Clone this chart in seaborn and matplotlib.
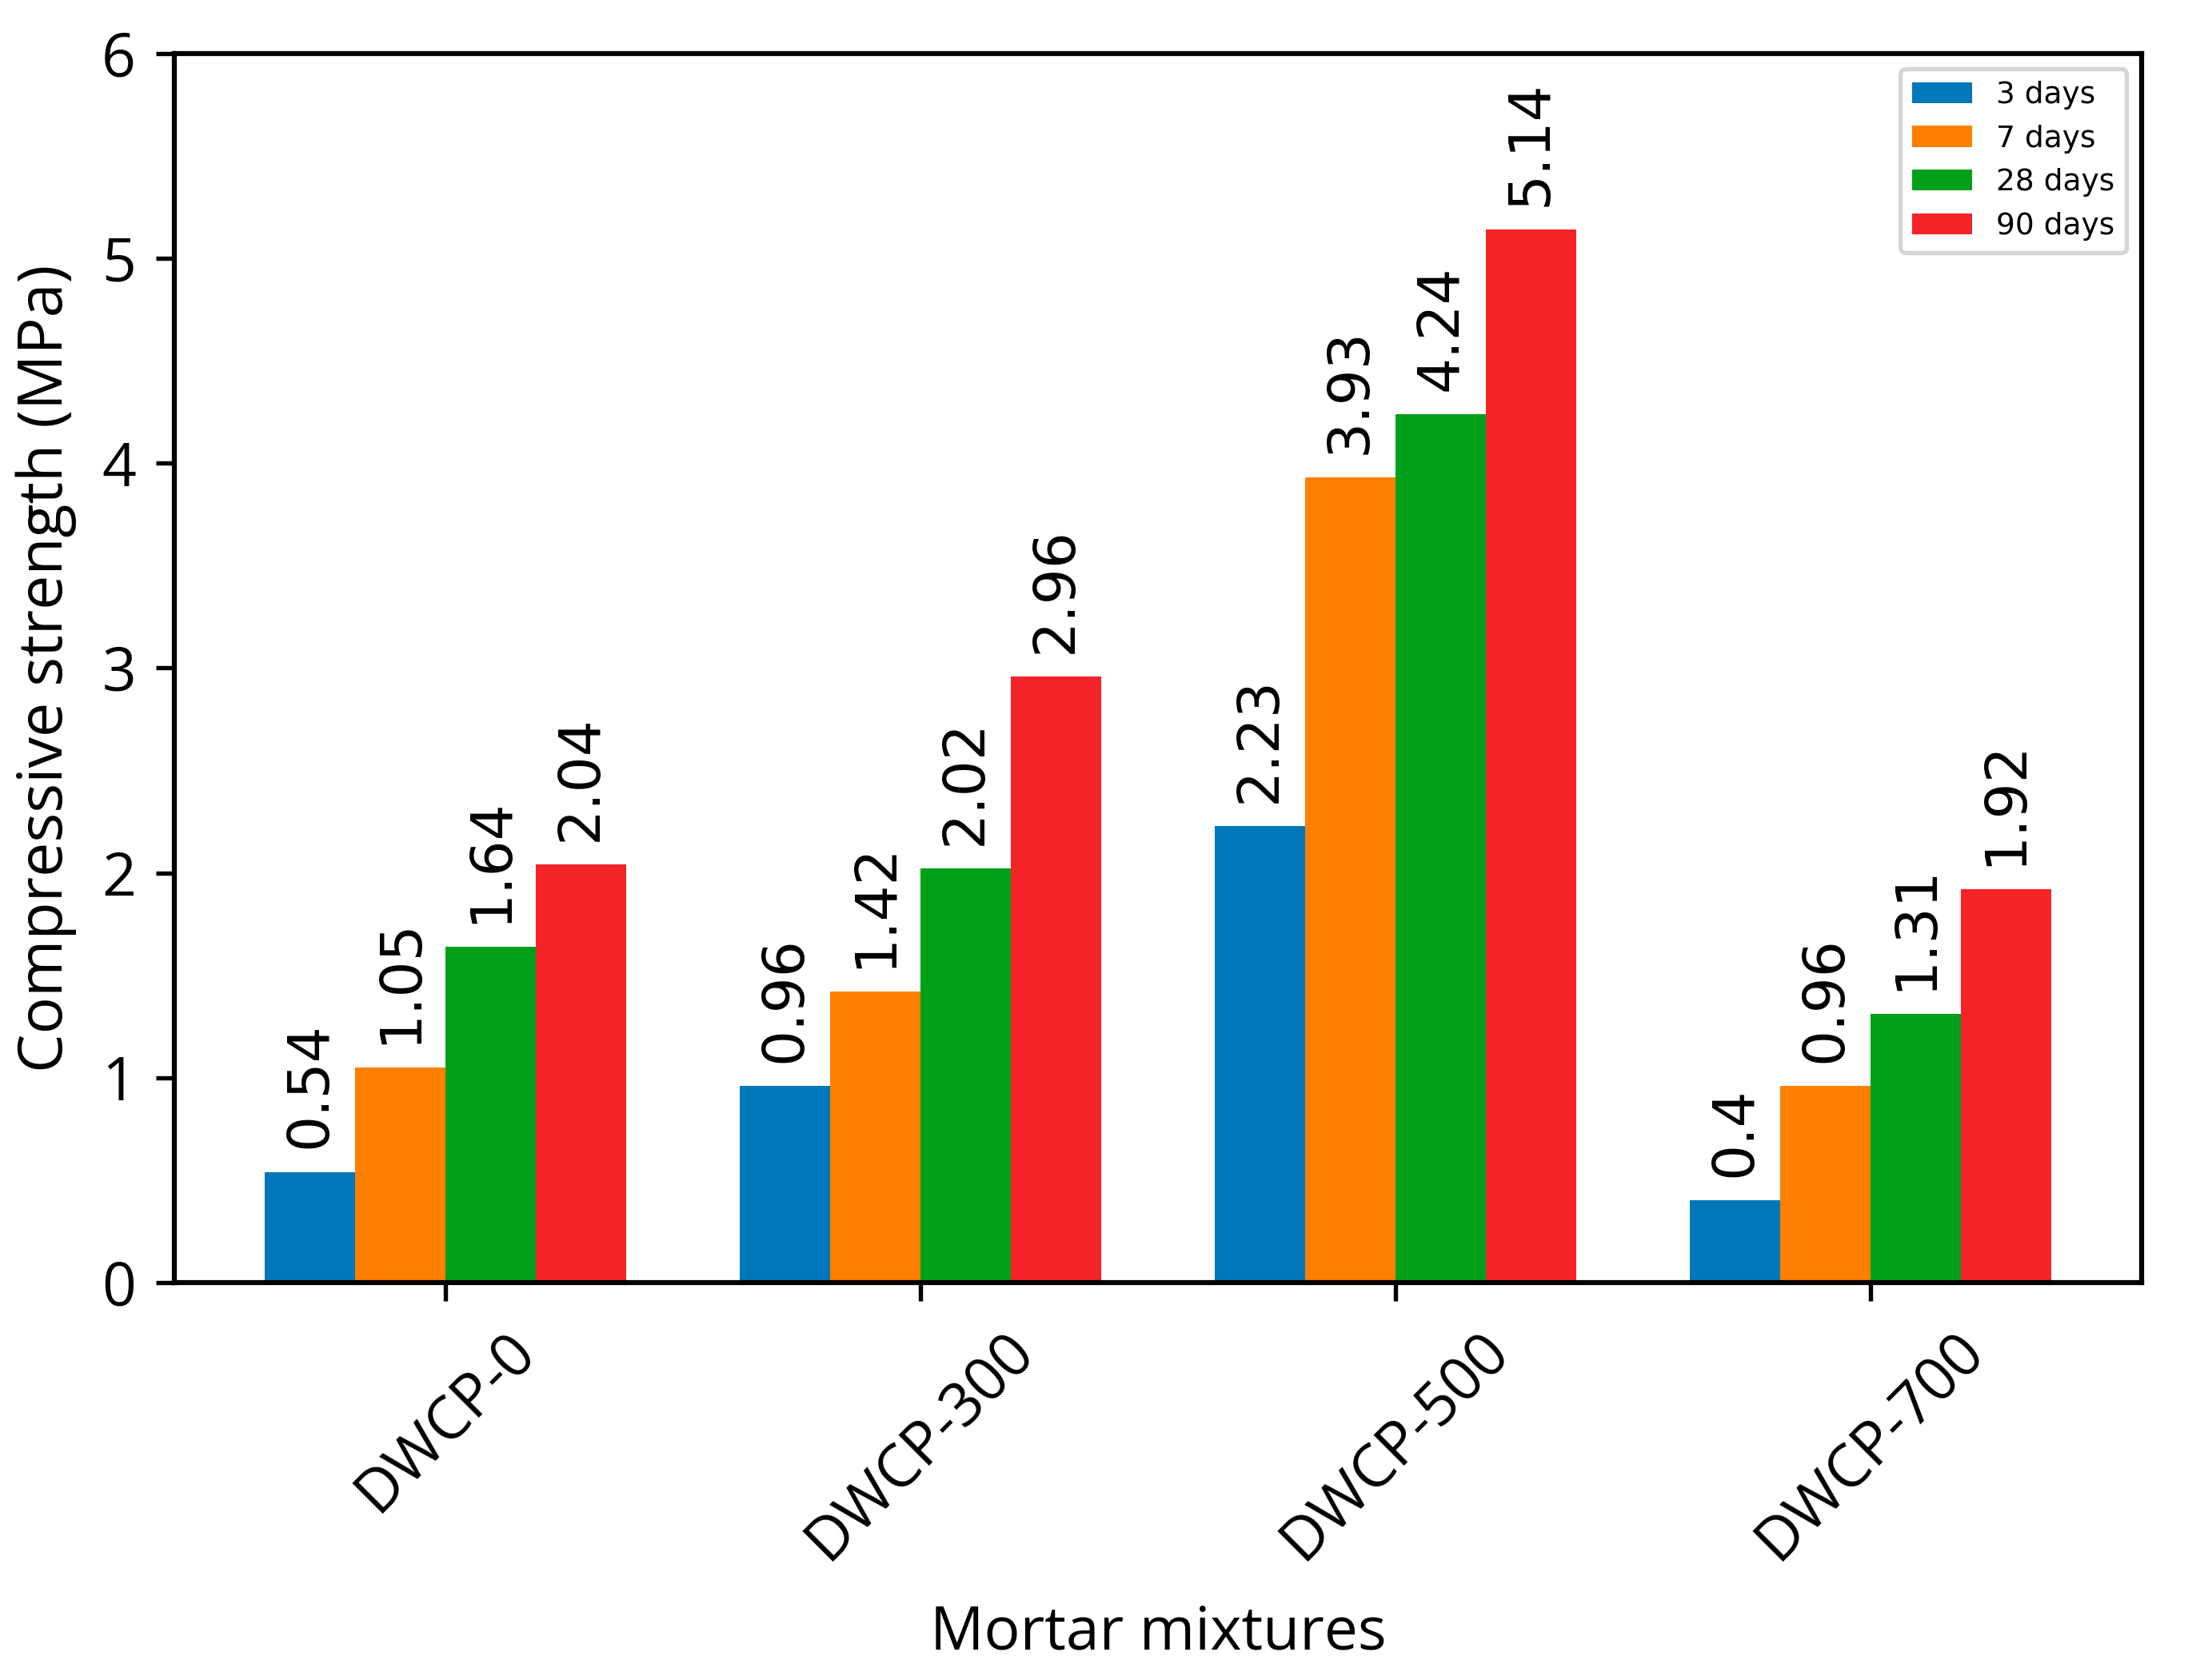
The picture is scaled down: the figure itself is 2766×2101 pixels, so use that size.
import matplotlib
matplotlib.use("Agg")
import matplotlib.pyplot as plt
import pandas as pd
import seaborn as sns

# ------------------------------------------------------------------
# Data
# ------------------------------------------------------------------
mixtures = ["DWCP-0", "DWCP-300", "DWCP-500", "DWCP-700"]
ages = ["3 days", "7 days", "28 days", "90 days"]
days_3 = [0.54, 0.96, 2.23, 0.4]
days_7 = [1.05, 1.42, 3.93, 0.96]
days_28 = [1.64, 2.02, 4.24, 1.31]
days_90 = [2.04, 2.96, 5.14, 1.92]

colors = ["#0077BA", "#FF8000", "#00A01B", "#F52428"]

df = pd.DataFrame({
    "mix": mixtures * 4,
    "age": [a for a in ages for _ in mixtures],
    "strength": days_3 + days_7 + days_28 + days_90,
})

plt.rcParams["font.family"] = ["Open Sans", "DejaVu Sans"]

fig, ax = plt.subplots(figsize=(2766 / 300, 2101 / 300), dpi=300)
fig.subplots_adjust(left=0.0788, right=0.9682, top=0.9681, bottom=0.2366)

sns.barplot(data=df, x="mix", y="strength", hue="age", order=mixtures,
            hue_order=ages, palette=colors, width=0.76, saturation=1,
            errorbar=None, linewidth=0, ax=ax)

for cont in ax.containers:
    ax.bar_label(cont, fmt="{:g}", rotation=90, padding=7, fontsize=17,
                 family="DejaVu Sans")

ax.set_xlim(-0.571, 3.571)
ax.set_ylim(0, 6)
ax.set_yticks(range(0, 7))
ax.set_xlabel("Mortar mixtures", fontsize=18, labelpad=9.5)
ax.set_ylabel("Compressive strength (MPa)", fontsize=18.5, labelpad=7.5)
ax.tick_params(axis="both", labelsize=18, length=5.5, width=1.3, pad=6,
               color="black")
ax.tick_params(axis="x", labelrotation=45)
for sp in ax.spines.values():
    sp.set_linewidth(1.5)
    sp.set_color("black")

handles, labels = ax.get_legend_handles_labels()
leg = ax.legend(handles, labels, loc="upper right",
                prop={"family": "DejaVu Sans", "size": 9})
leg.get_frame().set_linewidth(1.3)

fig.savefig("out.png", dpi=300)
